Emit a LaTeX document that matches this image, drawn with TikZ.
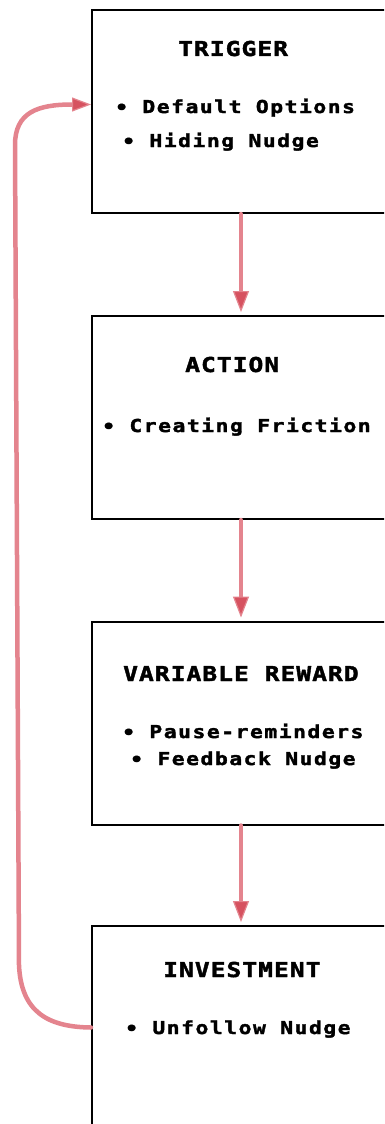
\documentclass[tikz,border=0pt]{standalone}
\usepackage{fontspec}
\setmonofont{DejaVu Sans Mono}
\newfontfamily\titlefont[FakeStretch=1.2,LetterSpace=5,FakeBold=2]{DejaVu Sans Mono Bold}
\newfontfamily\bodyfont[FakeStretch=1.2,LetterSpace=8.5,FakeBold=2]{DejaVu Sans Mono Bold}
\usetikzlibrary{arrows.meta}
\definecolor{loopline}{RGB}{228,132,142}
\definecolor{loophead}{RGB}{214,82,96}
\tikzset{
  stagebox/.style={draw=black, line width=2pt, minimum width=298pt, minimum height=203pt, inner sep=0pt, fill=white},
  titletext/.style={anchor=base west, inner sep=0pt, font=\titlefont\fontsize{20.5pt}{24pt}\selectfont},
  bodytext/.style={anchor=base west, inner sep=0pt, font=\bodyfont\fontsize{17.8pt}{21pt}\selectfont},
  flow/.style={draw=loopline, line width=4.5pt, line cap=round,
    -{Triangle[length=21pt,width=16pt,fill=loophead,color=loopline,line width=1.2pt]}},
  loopflow/.style={draw=loopline, line width=4.5pt, line cap=round,
    -{Triangle[length=19pt,width=14pt,fill=loophead,color=loopline,line width=1.2pt]}}
}
\begin{document}
\begin{tikzpicture}[x=1pt,y=1pt]
\clip (0,0) rectangle (384,-1124);
\fill[white] (0,0) rectangle (384,-1124);
\node[stagebox] (b1) at (241,-111.5) {};
\node[stagebox] (b2) at (241,-417.5) {};
\node[stagebox] (b3) at (241,-723) {};
\node[stagebox] (b4) at (241,-1027.5) {};

\node[titletext] (t1) at (178,-56) {TRIGGER};
\node[bodytext] (t1a) at (115,-113) {∙ Default Options};
\node[bodytext] (t1b) at (122,-147) {∙ Hiding Nudge};

\node[titletext] (t2) at (185,-372) {ACTION};
\node[bodytext] (t2a) at (102,-432) {∙ Creating Friction};

\node[titletext] (t3) at (123,-681) {VARIABLE REWARD};
\node[bodytext] (t3a) at (122,-738) {∙ Pause-reminders};
\node[bodytext] (t3b) at (130,-765) {∙ Feedback Nudge};

\node[titletext] (t4) at (163,-977) {INVESTMENT};
\node[bodytext] (t4a) at (125,-1034) {∙ Unfollow Nudge};

\draw[flow, shorten >=3pt] (b1.south) -- (b2.north);
\draw[flow, shorten >=3pt] (b2.south) -- (b3.north);
\draw[flow, shorten >=3pt] (b3.south) -- (b4.north);

\coordinate (lb) at (19,-965);
\coordinate (lt) at (15,-145);
\draw[loopflow] (b4.west) .. controls (48,-1027) and (21,-1012) .. (lb)
   -- (lt) .. controls (15,-112) and (38,-104.5) .. ([yshift=7pt]b1.west);
\end{tikzpicture}
\end{document}
